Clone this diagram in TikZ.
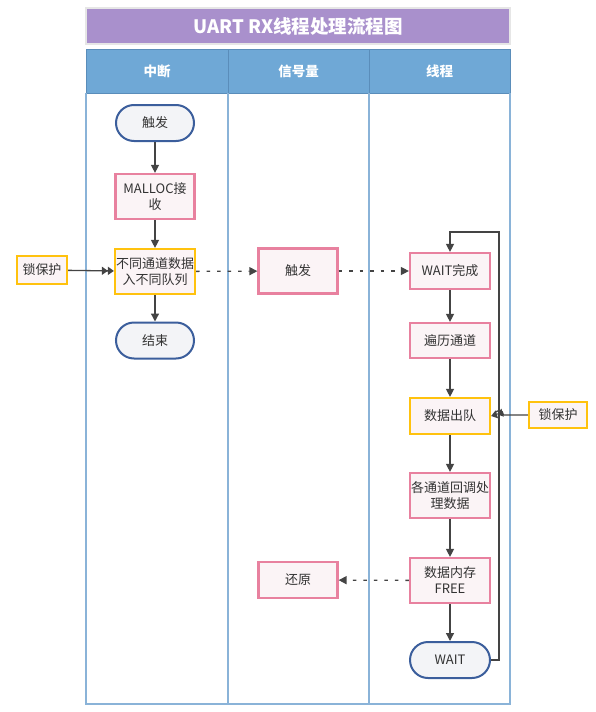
\documentclass[tikz,border=0pt]{standalone}
\usepackage{fontspec}
\setmainfont{Noto Sans CJK SC}
\usetikzlibrary{arrows.meta,positioning}
\definecolor{titlefill}{HTML}{A990CC}
\definecolor{titleborder}{HTML}{E6E6E6}
\definecolor{headfill}{HTML}{6FA8D6}
\definecolor{headborder}{HTML}{5A8DBA}
\definecolor{laneline}{HTML}{8AB3D8}
\definecolor{pinkb}{HTML}{E8819F}
\definecolor{pinkf}{HTML}{FBF4F6}
\definecolor{yellowb}{HTML}{FFC20E}
\definecolor{termf}{HTML}{F3F4F7}
\definecolor{termb}{HTML}{3B5E9C}
\definecolor{txt}{HTML}{333333}
\definecolor{arr}{HTML}{444444}
\tikzset{
  every node/.style={font=\fontsize{13}{16}\selectfont, text=txt, align=center, inner sep=0pt},
  procbox/.style={draw=pinkb, fill=pinkf, line width=2.2pt, minimum width=79pt, minimum height=45pt},
  lockbox/.style={draw=yellowb, fill=pinkf, line width=2.2pt, minimum width=80pt, minimum height=45pt},
  smallbox/.style={draw=yellowb, fill=pinkf, line width=2.2pt},
  termbox/.style={draw=termb, fill=termf, line width=2pt, rounded corners=18pt, minimum width=78pt, minimum height=36pt},
  flow/.style={draw=arr, line width=1.3pt, -{Triangle[length=8pt,width=8pt]}},
  dflow/.style={draw=arr, line width=1.3pt, dash pattern=on 3.5pt off 7pt, -{Triangle[length=8pt,width=8pt]}},
  lflow/.style={draw=arr, line width=1.3pt, -{Triangle[length=6pt,width=8pt]Triangle[length=6pt,width=8pt]}},
}
\begin{document}
\begin{tikzpicture}[x=1pt,y=-1pt]
\useasboundingbox (0,0) rectangle (596,712);
% title
\node[draw=titleborder, fill=titlefill, line width=2.5pt, minimum width=424pt, minimum height=36pt,
  font=\fontsize{18.5}{20}\selectfont\bfseries, text=white] (title) at (298,26) {UART RX线程处理流程图};
% header
\fill[headfill] (86,49) rectangle (510,93);
\draw[headborder, line width=1pt] (86,49) rectangle (510,93);
\draw[headborder, line width=1pt] (228,49) -- (228,93) (369,49) -- (369,93);
\node[text=white, font=\fontsize{13.5}{15}\selectfont\bfseries] (h1) at (157,71) {中断};
\node[text=white, font=\fontsize{13.5}{15}\selectfont\bfseries] (h2) at (298.5,71) {信号量};
\node[text=white, font=\fontsize{13.5}{15}\selectfont\bfseries] (h3) at (439.5,71) {线程};
% lanes
\draw[laneline, line width=1.4pt] (86,93) -- (86,704) -- (510,704) -- (510,93);
\draw[laneline, line width=1.4pt] (228,93) -- (228,704) (369,93) -- (369,704);
% nodes lane 1
\node[termbox] (t1) at (155,123) {触发};
\node[procbox] (malloc) at (155,196.5) {MALLOC接\\收};
\node[lockbox] (queue) at (155,271.5) {不同通道数据\\入不同队列};
\node[termbox] (end) at (155,340.5) {结束};
\node[smallbox, minimum width=50pt, minimum height=28pt] (lockl) at (42,270) {锁保护};
% lane 2
\node[procbox] (sig) at (298,271) {触发};
\node[procbox, minimum height=36pt] (restore) at (298,580) {还原};
% lane 3
\node[procbox, minimum width=80pt, minimum height=36pt] (wc) at (450,271) {WAIT完成};
\node[procbox, minimum width=80pt, minimum height=35pt] (iter) at (450,340.5) {遍历通道};
\node[smallbox, minimum width=80pt, minimum height=36pt] (deq) at (450,416) {数据出队};
\node[smallbox, minimum width=58pt, minimum height=26pt] (lockr) at (558,415) {锁保护};
\node[procbox, minimum width=80pt] (cb) at (450,495.5) {各通道回调处\\理数据};
\node[procbox, minimum width=80pt] (free) at (450,580.5) {数据内存\\FREE};
\node[termbox, minimum width=80pt] (wait) at (450,660) {WAIT};
% connectors
\draw[flow] (t1) -- (malloc);
\draw[flow] (malloc) -- (queue);
\draw[flow] (queue) -- (end);
\draw[lflow] (lockl) -- (queue);
\draw[dflow] (queue) -- (sig);
\draw[dflow] (sig) -- (wc);
\draw[flow] (wc) -- (iter);
\draw[flow] (iter) -- (deq);
\draw[flow] (deq) -- (cb);
\draw[flow] (cb) -- (free);
\draw[flow] (free) -- (wait);
\draw[dflow] (free) -- (restore);
\coordinate (loopc) at (499,232);
\draw[flow] (wait.east) -| (loopc) -| (wc.north);
\coordinate (hop) at (503.5,415);
\draw[lflow] (lockr.west) -- (hop) arc (0:-180:4.5) -- (deq.east);
\end{tikzpicture}
\end{document}
